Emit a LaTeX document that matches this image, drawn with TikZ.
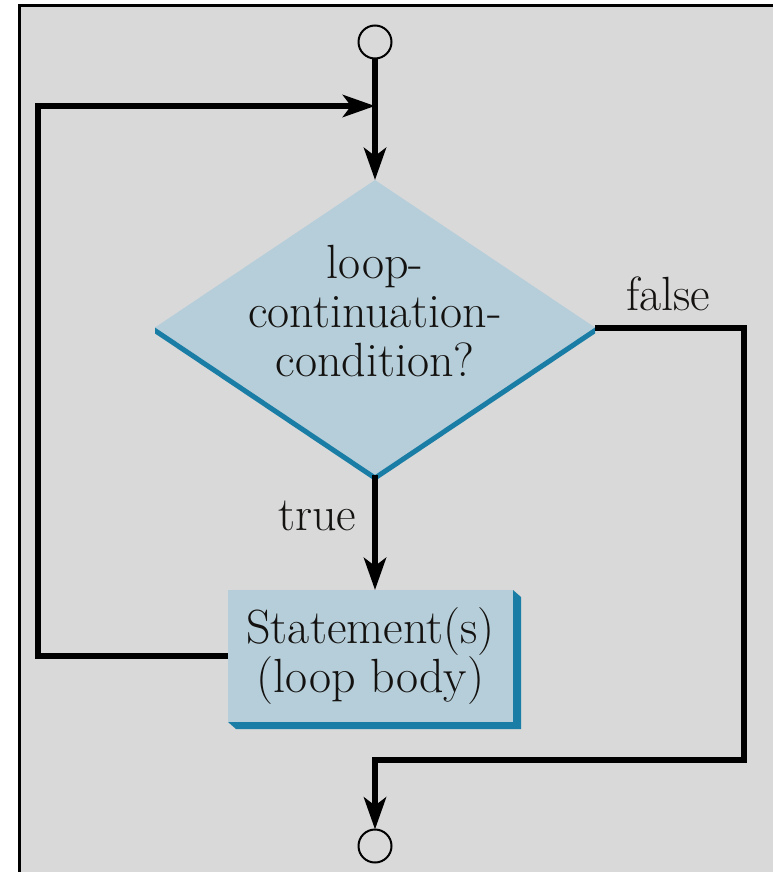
\documentclass[tikz,border=0pt]{standalone}
\usepackage{fontspec}
\usetikzlibrary{arrows.meta,shapes.geometric,calc}
\definecolor{bg}{RGB}{217,217,217}
\definecolor{lightblue}{RGB}{182,206,217}
\definecolor{darkblue}{RGB}{25,125,165}
\definecolor{ink}{RGB}{20,18,16}
\begin{document}
\begin{tikzpicture}[x=1pt,y=-1pt,
  conn/.style={line width=6pt, draw=black},
  arr/.style={conn, -{Stealth[length=32pt,width=22pt,inset=8pt]}},
  term/.style={circle, draw=black, line width=2pt, minimum size=33pt, inner sep=0pt, outer sep=0pt},
  txt/.style={font=\fontsize{48}{49}\selectfont, align=center, text=ink, inner sep=0pt},
  lbl/.style={font=\fontsize{48}{49}\selectfont, text=ink, inner sep=0pt},
  decision/.style={diamond, fill=lightblue, minimum width=440pt, minimum height=295pt, inner sep=0pt, outer sep=0pt},
  process/.style={rectangle, fill=lightblue, minimum width=285pt, minimum height=132pt, inner sep=0pt, outer sep=0pt},
]
\useasboundingbox (0,0) rectangle (772,872);
\fill[white] (0,0) rectangle (772,872);
\draw[line width=3pt, fill=bg] (19,6) rectangle (800,900);

% nodes
\node[term] (start) at (375,42) {};
\node[term] (stop) at (375,846) {};
\node[decision] (cond) at (375,327.5) {};
\fill[darkblue] (cond.west) -- ($(cond.west)+(0,6)$) -- ($(cond.south)+(0,6)$) -- ($(cond.east)+(0,6)$) -- (cond.east) -- (cond.south) -- cycle;
\node[txt] (condtext) at (375,311) {loop-\\continuation-\\condition?};
\node[process] (body) at (370.5,656) {};
\fill[darkblue] (body.north east) -- ($(body.north east)+(8,7)$) -- ($(body.south east)+(8,7)$) -- ($(body.south west)+(8,7)$) -- (body.south west) -- (body.south east) -- cycle;
\node[txt] (bodytext) at (370.5,656) {Statement(s)\\(loop body)};
\node[lbl, anchor=base west] (falselbl) at (626,310) {false};
\node[lbl, anchor=base west] (truelbl) at (278,530) {true};

% connectors
\coordinate (merge) at (375,106);
\coordinate (loopcorner) at (38,106);
\coordinate (falsecorner) at (744,760);
\draw[arr] (start.south) -- (cond.north);
\draw[arr] (body.west) -| (loopcorner) -- (merge);
\draw[arr] (cond.south) -- (cond.south |- body.north);
\draw[arr] (cond.east) -| (falsecorner) -| (stop.north);
\end{tikzpicture}
\end{document}
